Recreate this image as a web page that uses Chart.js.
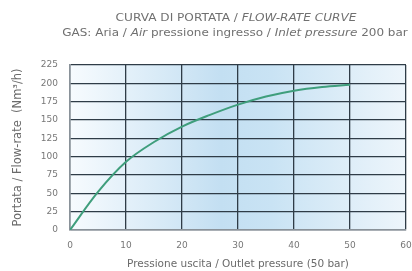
<!DOCTYPE html>
<html>
<head>
<meta charset="utf-8">
<script src="https://cdn.jsdelivr.net/npm/chart.js@4"></script>
<style>
  html, body { margin: 0; padding: 0; background: #fff; }
  #wrap { width: 412px; height: 271px; }
</style>
</head>
<body>
<div id="wrap"><canvas id="flowChart" width="412" height="271"></canvas></div>
<script>
  // Outlet pressure (bar) and flow-rate (Nm3/h)
  var pressure = [0, 5, 10, 15, 20, 25, 30, 35, 40, 45, 50];
  var flowRate = [0, 52, 93, 120, 141, 157, 171, 182, 190, 195, 198];
  var yTicks = [0, 25, 50, 75, 100, 125, 150, 175, 200, 225];
  var xTicks = [0, 10, 20, 30, 40, 50, 60];

  var titleLines = [
    [['CURVA DI PORTATA / ', 'normal'], ['FLOW-RATE CURVE', 'italic']],
    [['GAS: Aria / ', 'normal'], ['Air', 'italic'], [' pressione ingresso / ', 'normal'], ['Inlet pressure', 'italic'], [' 200 bar', 'normal']]
  ];

  var FONT = '"DejaVu Sans", sans-serif';
  var STRETCH = 1.25; // the title text in the picture is wide and low

  // draws a text line made of normal / italic pieces, centered at x
  function drawMixed(ctx, parts, x, y, size) {
    var widths = parts.map(function (p) {
      ctx.font = p[1] + ' ' + size + 'px ' + FONT;
      return ctx.measureText(p[0]).width;
    });
    var total = widths.reduce(function (a, b) { return a + b; }, 0);
    ctx.save();
    ctx.translate(x, y);
    ctx.scale(STRETCH, 1);
    var cx = -total / 2;
    parts.forEach(function (p, i) {
      ctx.font = p[1] + ' ' + size + 'px ' + FONT;
      ctx.fillText(p[0], cx, 0);
      cx += widths[i];
    });
    ctx.restore();
  }

  // Background gradient + titles
  var decorPlugin = {
    id: 'decor',
    beforeDraw: function (chart) {
      var ctx = chart.ctx, a = chart.chartArea;
      ctx.save();
      var g = ctx.createLinearGradient(a.left, 0, a.right, 0);
      g.addColorStop(0, '#f7fbfe');
      g.addColorStop(0.45, '#c3dff2');
      g.addColorStop(0.6, '#c9e3f4');
      g.addColorStop(1, '#edf5fb');
      ctx.fillStyle = g;
      ctx.fillRect(a.left, a.top, a.right - a.left, a.bottom - a.top);
      ctx.restore();
    },
    afterDraw: function (chart) {
      var ctx = chart.ctx;
      ctx.save();
      ctx.fillStyle = '#707070';
      ctx.textBaseline = 'middle';
      ctx.textAlign = 'left';
      drawMixed(ctx, titleLines[0], 236, 18, 9.7);
      drawMixed(ctx, titleLines[1], 235, 33, 9.6);
      ctx.restore();
    }
  };

  var ctx = document.getElementById('flowChart').getContext('2d');
  var flowChart = new Chart(ctx, {
    type: 'line',
    data: {
      labels: pressure,
      datasets: [{
        data: pressure.map(function (p, i) { return { x: p, y: flowRate[i] }; }),
        borderColor: '#3f9e7c',
        borderWidth: 2,
        pointRadius: 0,
        tension: 0.35,
        fill: false
      }]
    },
    options: {
      responsive: false,
      animation: false,
      layout: { padding: { top: 65, right: 6, left: 0, bottom: 0 } },
      plugins: { legend: { display: false }, tooltip: { enabled: false } },
      scales: {
        x: {
          type: 'linear',
          min: 0, max: 60,
          afterBuildTicks: function (s) { s.ticks = xTicks.map(function (v) { return { value: v }; }); },
          afterFit: function (s) {
            s.height = 41;
            // the "60" label may run off the edge, as in the picture
            s.paddingRight = 0;
            s.paddingLeft = 0;
          },
          grid: { color: '#2f3c47', lineWidth: 1.3, drawTicks: false },
          border: { color: '#8a9299', width: 1.5 },
          ticks: { color: '#777', font: { family: FONT, size: 9 }, padding: 10 },
          title: {
            display: true,
            text: 'Pressione uscita / Outlet pressure (50 bar)',
            color: '#6a6a6a',
            font: { family: FONT, size: 10.5 },
            padding: { top: 2, bottom: 0 }
          }
        },
        y: {
          min: 0, max: 225,
          afterBuildTicks: function (s) { s.ticks = yTicks.map(function (v) { return { value: v }; }); },
          afterFit: function (s) { s.width = 70; },
          grid: { color: '#2f3c47', lineWidth: 1.3, drawTicks: false },
          border: { color: '#8a9299', width: 1.5 },
          ticks: { color: '#777', font: { family: FONT, size: 9 }, padding: 12 },
          title: {
            display: true,
            text: 'Portata / Flow-rate  (Nm³/h)',
            color: '#6a6a6a',
            font: { family: FONT, size: 11.5 },
            padding: { top: 11, bottom: 0 }
          }
        }
      }
    },
    plugins: [decorPlugin]
  });
</script>
</body>
</html>
